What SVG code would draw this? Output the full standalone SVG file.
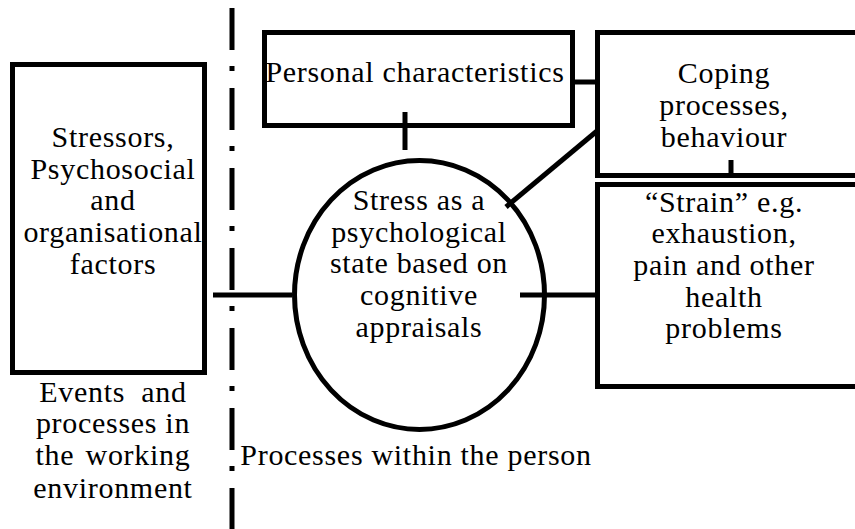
<svg xmlns="http://www.w3.org/2000/svg" width="855" height="529" viewBox="0 0 855 529">
<style>
.box{fill:none;stroke:#000;stroke-width:5}
.ln{stroke:#000;stroke-width:5;fill:none}
.t text{font-family:'Liberation Serif','Times New Roman',Times,'DejaVu Serif',serif;font-size:30px;letter-spacing:0.7px;fill:#000;text-anchor:middle}
</style>
<rect width="855" height="529" fill="#fff"/>
<g id="connectors">
<path class="ln" d="M232,8 V529" stroke-dasharray="42 16 5 17"/>
<line class="ln" x1="213" y1="295" x2="292" y2="295"/>
<line class="ln" x1="520" y1="295" x2="597" y2="295"/>
<line class="ln" x1="405" y1="112" x2="405" y2="150"/>
<line class="ln" x1="575" y1="82" x2="595" y2="82"/>
<line class="ln" x1="597" y1="131" x2="506" y2="207"/>
<line class="ln" x1="731" y1="160" x2="731" y2="175"/>
</g>
<g class="t">
<g id="stressors">
<rect class="box" x="12.5" y="64.5" width="192" height="308"/>
<text x="113" y="147">Stressors,</text>
<text x="113" y="178.5">Psychosocial</text>
<text x="113" y="210">and</text>
<text x="113" y="242">organisational</text>
<text x="113" y="273.5">factors</text>
</g>
<g id="personal">
<rect class="box" x="264.5" y="32.5" width="308" height="93"/>
<text x="415" y="82">Personal characteristics</text>
</g>
<g id="coping">
<rect class="box" x="597.5" y="32.5" width="300" height="143"/>
<text x="724" y="83">Coping</text>
<text x="724" y="115">processes,</text>
<text x="724" y="147">behaviour</text>
</g>
<g id="strain">
<rect class="box" x="597.5" y="184.5" width="300" height="202"/>
<text x="724" y="212">“Strain” e.g.</text>
<text x="724" y="243">exhaustion,</text>
<text x="724" y="275">pain and other</text>
<text x="724" y="307">health</text>
<text x="724" y="338">problems</text>
</g>
<g id="stress">
<ellipse class="box" cx="419.5" cy="295" rx="125" ry="134.5"/>
<text x="419" y="210">Stress as a</text>
<text x="419" y="241.5">psychological</text>
<text x="419" y="273">state based on</text>
<text x="419" y="305">cognitive</text>
<text x="419" y="337">appraisals</text>
</g>
<g id="env-label">
<text x="113" y="402" word-spacing="8">Events and</text>
<text x="113" y="433">processes in</text>
<text x="113" y="465" word-spacing="3">the working</text>
<text x="113" y="498">environment</text>
</g>
<g id="person-label">
<text x="416" y="465">Processes within the person</text>
</g>
</g>
</svg>
